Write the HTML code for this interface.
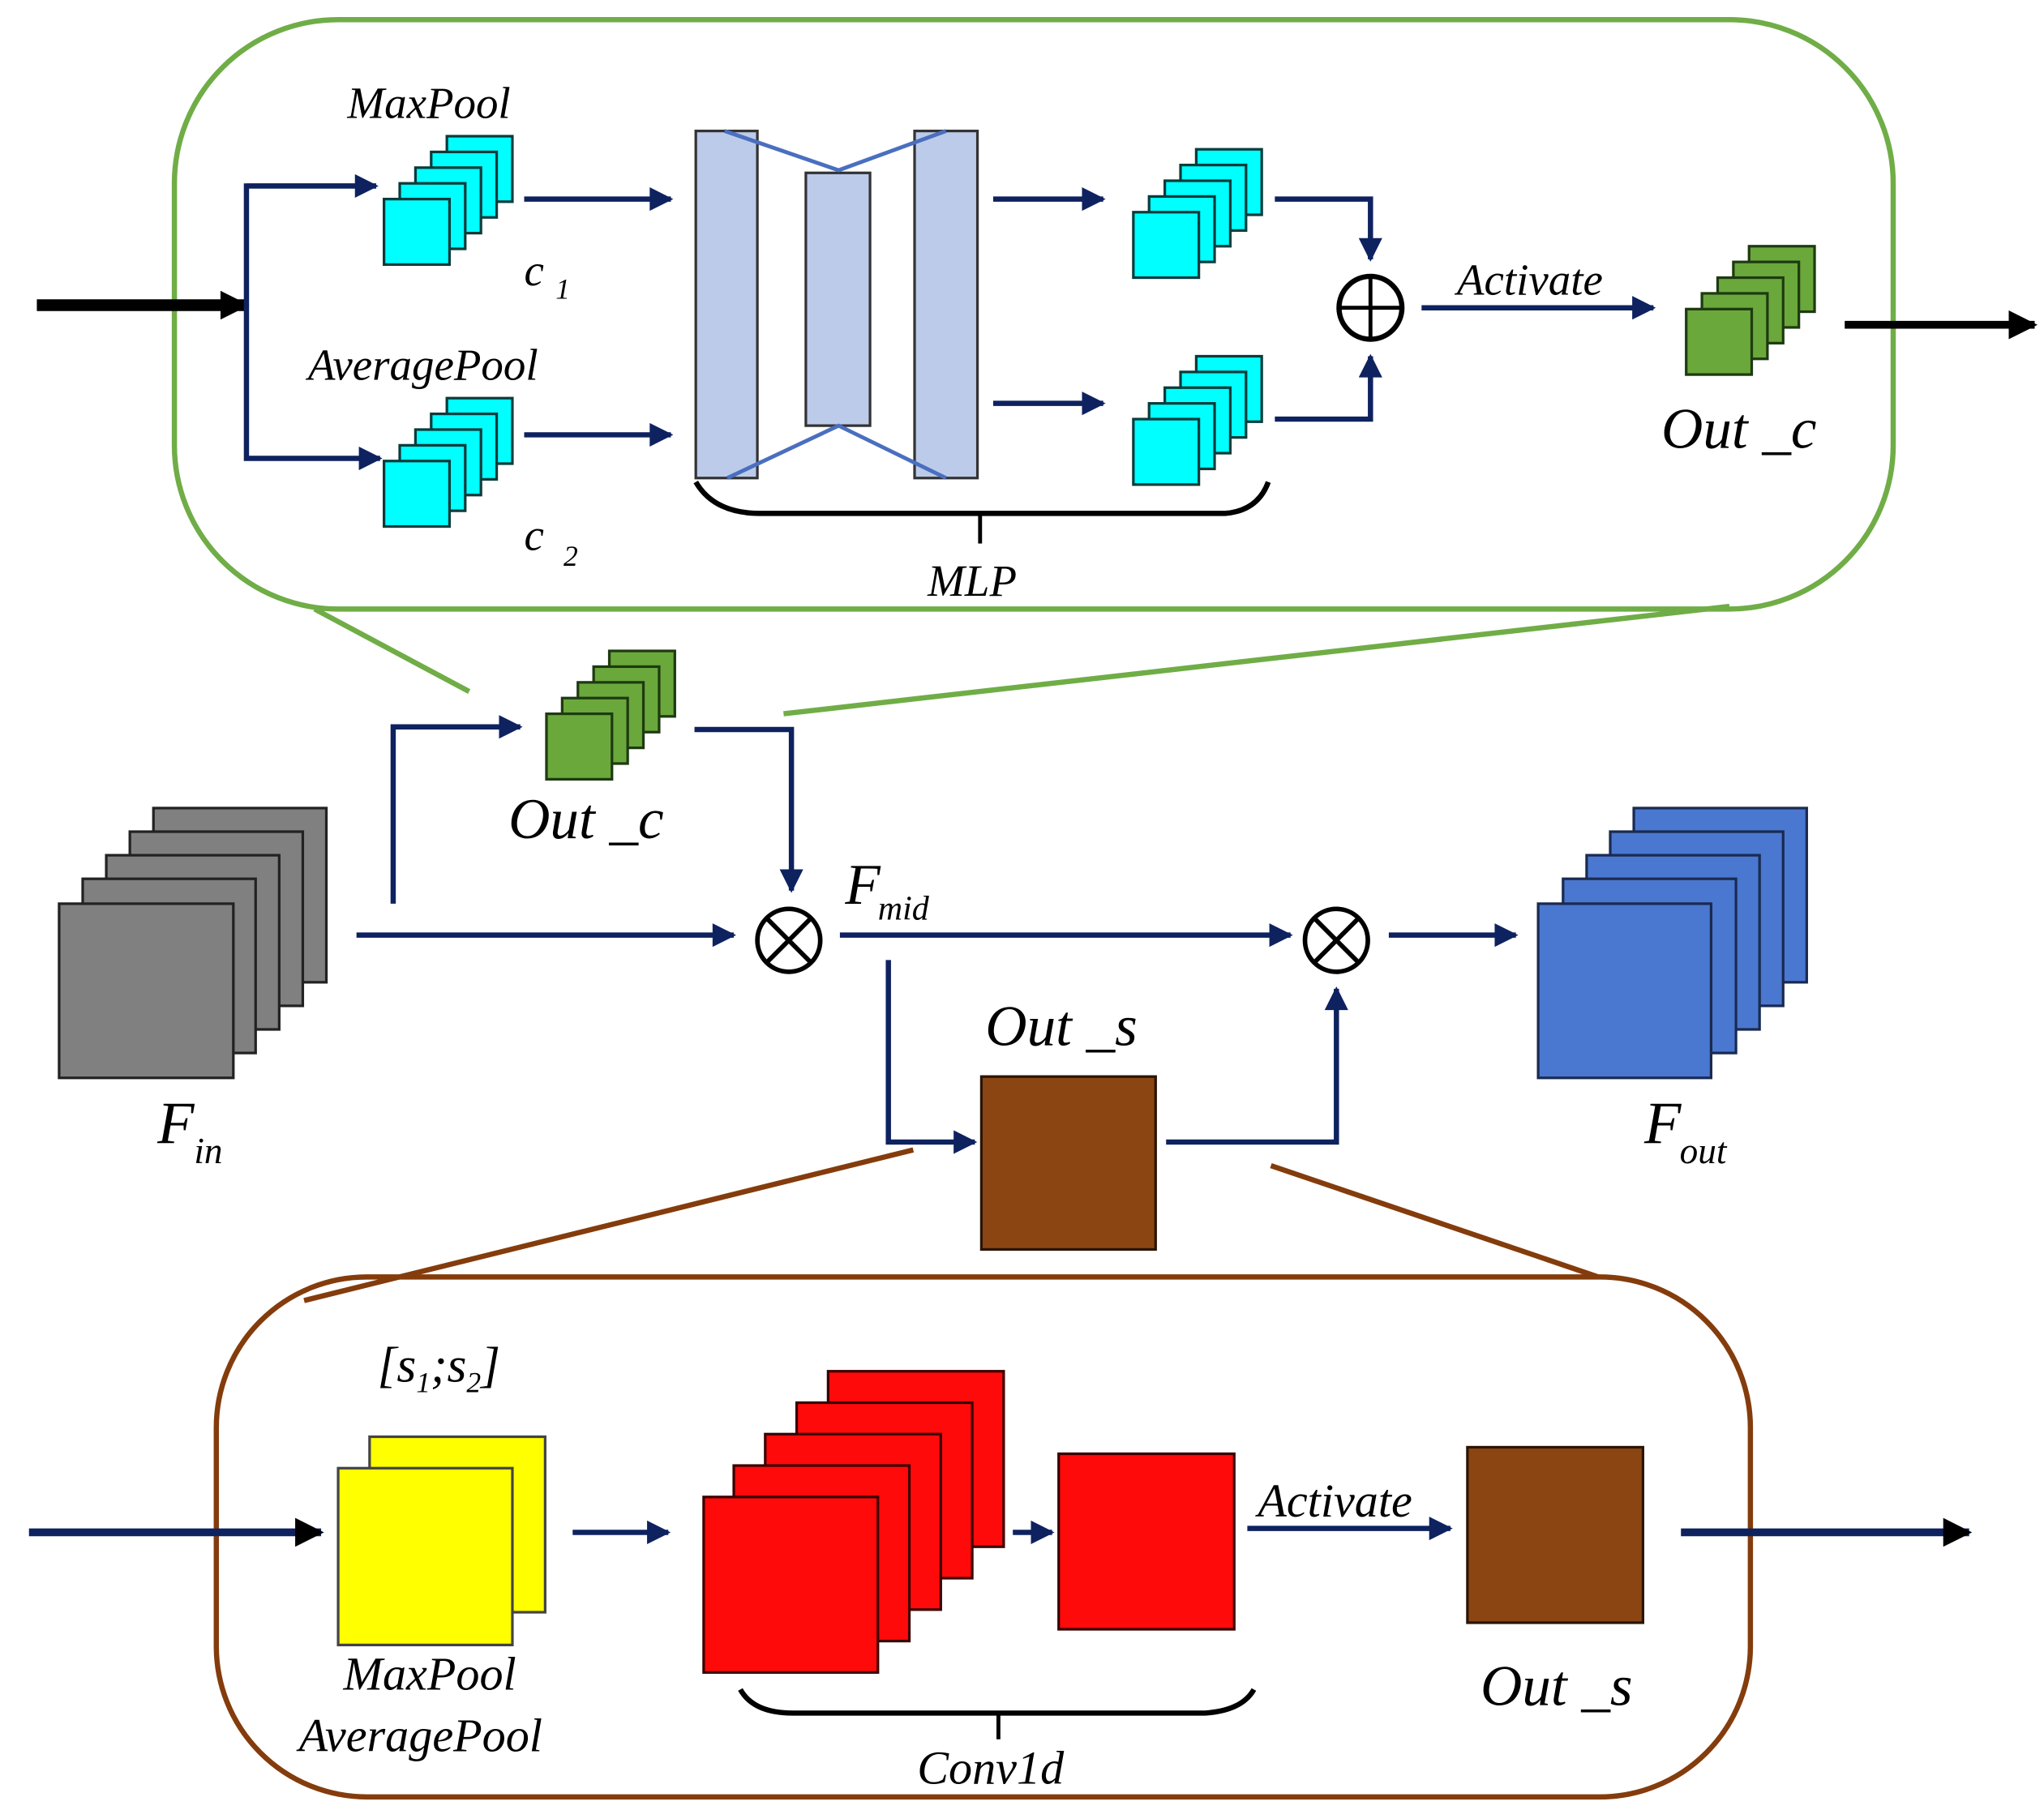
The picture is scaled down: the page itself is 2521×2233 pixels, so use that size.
<!DOCTYPE html>
<html><head><meta charset="utf-8"><style>
html,body{margin:0;padding:0;background:#fff}
svg{display:block}
text{font-family:"Liberation Serif",serif;font-style:italic;fill:#000}
</style></head><body>
<svg width="2521" height="2233" viewBox="0 0 1560 1382" xmlns="http://www.w3.org/2000/svg">
<defs>
<marker id="a" markerWidth="10" markerHeight="10" refX="8" refY="5" orient="auto" markerUnits="userSpaceOnUse"><path d="M0,0 L10,5 L0,10 Z" fill="#0e2260" transform="scale(1)"/></marker>
<marker id="A" viewBox="0 0 10 10" markerWidth="22" markerHeight="18" refX="9" refY="5" orient="auto" markerUnits="userSpaceOnUse"><path d="M0,0 L10,5 L0,10 Z" fill="#0e2260"/></marker>
<marker id="B" viewBox="0 0 10 10" markerWidth="36" markerHeight="22" refX="9" refY="5" orient="auto" markerUnits="userSpaceOnUse"><path d="M0,0 L10,5 L0,10 Z" fill="#000"/></marker>
<g id="cy"><rect width="50" height="50" fill="#00ffff" stroke="#0b3b3b" stroke-width="2"/></g>
<g id="gr"><rect width="50" height="50" fill="#6aa83c" stroke="#1e3a10" stroke-width="2"/></g>
</defs>
<rect width="1560" height="1382" fill="#fff"/>
<!-- green panel -->
<rect x="133" y="15" width="1312" height="450" rx="125" fill="none" stroke="#70ad47" stroke-width="4"/>
<line x1="240" y1="465" x2="358" y2="528" stroke="#70ad47" stroke-width="4"/>
<line x1="1320" y1="463" x2="598" y2="545" stroke="#70ad47" stroke-width="4"/>
<g stroke="#0e2260" stroke-width="4" fill="none">
<line x1="28" y1="233" x2="188" y2="233" stroke="#000" stroke-width="9" marker-end="url(#B)"/>
<polyline points="287,142 188,142 188,350 290,350" marker-end="url(#A)"/>
<line x1="188" y1="142" x2="287" y2="142" marker-end="url(#A)"/>
<line x1="400" y1="152" x2="512" y2="152" marker-end="url(#A)"/>
<line x1="400" y1="332" x2="512" y2="332" marker-end="url(#A)"/>
<line x1="758" y1="152" x2="842" y2="152" marker-end="url(#A)"/>
<line x1="758" y1="308" x2="842" y2="308" marker-end="url(#A)"/>
<polyline points="973,152 1046,152 1046,198" marker-end="url(#A)"/>
<polyline points="973,320 1046,320 1046,272" marker-end="url(#A)"/>
<line x1="1085" y1="235" x2="1262" y2="235" marker-end="url(#A)"/>
<line x1="1408" y1="248" x2="1553" y2="248" stroke="#000" stroke-width="6" marker-end="url(#B)"/>
</g>
<!-- cyan stacks -->
<g><use href="#cy" x="341" y="104"/><use href="#cy" x="329" y="116"/><use href="#cy" x="317" y="128"/><use href="#cy" x="305" y="140"/><use href="#cy" x="293" y="152"/></g>
<g><use href="#cy" x="341" y="304"/><use href="#cy" x="329" y="316"/><use href="#cy" x="317" y="328"/><use href="#cy" x="305" y="340"/><use href="#cy" x="293" y="352"/></g>
<g><use href="#cy" x="913" y="114"/><use href="#cy" x="901" y="126"/><use href="#cy" x="889" y="138"/><use href="#cy" x="877" y="150"/><use href="#cy" x="865" y="162"/></g>
<g><use href="#cy" x="913" y="272"/><use href="#cy" x="901" y="284"/><use href="#cy" x="889" y="296"/><use href="#cy" x="877" y="308"/><use href="#cy" x="865" y="320"/></g>
<g><use href="#gr" x="1335" y="188"/><use href="#gr" x="1323" y="200"/><use href="#gr" x="1311" y="212"/><use href="#gr" x="1299" y="224"/><use href="#gr" x="1287" y="236"/></g>
<g><use href="#gr" x="465" y="497"/><use href="#gr" x="453" y="509"/><use href="#gr" x="441" y="521"/><use href="#gr" x="429" y="533"/><use href="#gr" x="417" y="545"/></g>
<!-- MLP -->
<g fill="#bccbea" stroke="#333" stroke-width="2">
<rect x="531" y="100" width="47" height="265"/><rect x="615" y="132" width="49" height="193"/><rect x="698" y="100" width="48" height="265"/></g>
<g stroke="#4a6fbf" stroke-width="3" fill="none">
<polyline points="553,100 640,130 722,100"/><polyline points="555,365 640,325 722,365"/></g>
<path d="M531,368 Q545,392 580,392 L935,392 Q960,390 968,368" fill="none" stroke="#000" stroke-width="4"/>
<line x1="748" y1="392" x2="748" y2="415" stroke="#000" stroke-width="3"/>
<text x="265" y="90" font-size="34">MaxPool</text>
<text x="400" y="218" font-size="34">c</text><text x="424" y="228" font-size="22" font-style="normal">1</text>
<text x="235" y="290" font-size="34">AveragePool</text>
<text x="400" y="420" font-size="34">c</text><text x="430" y="432" font-size="22" font-style="normal">2</text>
<text x="708" y="455" font-size="34">MLP</text>
<text x="1112" y="225" font-size="34">Activate</text>
<text x="1268" y="342" font-size="44">Out _c</text>
<circle cx="1046" cy="235" r="24" fill="#fff" stroke="#000" stroke-width="4"/>
<line x1="1022" y1="235" x2="1070" y2="235" stroke="#000" stroke-width="3"/><line x1="1046" y1="211" x2="1046" y2="259" stroke="#000" stroke-width="3"/>
<!-- middle -->
<text x="388" y="640" font-size="44">Out _c</text>
<g stroke="#0e2260" stroke-width="4" fill="none">
<polyline points="300,690 300,555 397,555" marker-end="url(#A)"/>
<polyline points="530,557 604,557 604,680" marker-end="url(#A)"/>
<line x1="272" y1="714" x2="560" y2="714" marker-end="url(#A)"/>
<line x1="641" y1="714" x2="985" y2="714" marker-end="url(#A)"/>
<line x1="1060" y1="714" x2="1157" y2="714" marker-end="url(#A)"/>
<polyline points="678,733 678,872 744,872" marker-end="url(#A)"/>
<polyline points="890,872 1020,872 1020,755" marker-end="url(#A)"/>
</g>
<g stroke="#000" stroke-width="3.5" fill="none">
<circle cx="602" cy="718" r="24" fill="#fff"/><line x1="585" y1="701" x2="619" y2="735"/><line x1="619" y1="701" x2="585" y2="735"/>
<circle cx="1020" cy="718" r="24" fill="#fff"/><line x1="1003" y1="701" x2="1037" y2="735"/><line x1="1037" y1="701" x2="1003" y2="735"/>
</g>
<g fill="#808080" stroke="#222" stroke-width="2">
<rect x="117" y="617" width="132" height="133"/><rect x="99" y="635" width="132" height="133"/><rect x="81" y="653" width="132" height="133"/><rect x="63" y="671" width="132" height="133"/><rect x="45" y="690" width="133" height="133"/></g>
<g fill="#4a78d0" stroke="#1a2a50" stroke-width="2">
<rect x="1247" y="617" width="132" height="133"/><rect x="1229" y="635" width="132" height="133"/><rect x="1211" y="653" width="132" height="133"/><rect x="1193" y="671" width="132" height="133"/><rect x="1174" y="690" width="132" height="133"/></g>
<text x="120" y="873" font-size="46">F</text><text x="148" y="888" font-size="28">in</text>
<text x="1255" y="873" font-size="46">F</text><text x="1282" y="888" font-size="28">out</text>
<text x="645" y="690" font-size="44">F</text><text x="670" y="702" font-size="26">mid</text>
<text x="752" y="798" font-size="44">Out _s</text>
<rect x="749" y="822" width="133" height="132" fill="#8b4513" stroke="#2a1405" stroke-width="2"/>
<line x1="697" y1="878" x2="232" y2="993" stroke="#843c0c" stroke-width="4"/>
<line x1="970" y1="890" x2="1220" y2="975" stroke="#843c0c" stroke-width="4"/>
<!-- brown panel -->
<rect x="165" y="975" width="1171" height="397" rx="115" fill="none" stroke="#843c0c" stroke-width="4"/>
<g stroke="#0e2260" stroke-width="4" fill="none">
<line x1="22" y1="1170" x2="245" y2="1170" stroke-width="6" marker-end="url(#B)"/>
<line x1="437" y1="1170" x2="510" y2="1170" marker-end="url(#A)"/>
<line x1="773" y1="1170" x2="803" y2="1170" marker-end="url(#A)"/>
<line x1="952" y1="1167" x2="1107" y2="1167" marker-end="url(#A)"/>
<line x1="1283" y1="1170" x2="1503" y2="1170" stroke-width="6" marker-end="url(#B)"/>
</g>
<g fill="#ffff00" stroke="#444" stroke-width="2"><rect x="282" y="1097" width="134" height="134"/><rect x="258" y="1121" width="133" height="135"/></g>
<g fill="#ff0a0a" stroke="#3a0000" stroke-width="2">
<rect x="632" y="1047" width="134" height="134"/><rect x="608" y="1071" width="134" height="134"/><rect x="584" y="1095" width="134" height="134"/><rect x="560" y="1119" width="134" height="134"/><rect x="537" y="1143" width="133" height="134"/>
<rect x="808" y="1110" width="134" height="134"/></g>
<rect x="1120" y="1105" width="134" height="134" fill="#8b4513" stroke="#2a1405" stroke-width="2"/>
<path d="M565,1290 Q575,1308 605,1308 L920,1308 Q948,1306 957,1290" fill="none" stroke="#000" stroke-width="4"/>
<line x1="762" y1="1308" x2="762" y2="1328" stroke="#000" stroke-width="3"/>
<text x="288" y="1055" font-size="38" font-style="normal">[<tspan font-style="italic">s</tspan><tspan font-size="22" dy="8">1</tspan><tspan dy="-8">;</tspan><tspan font-style="italic">s</tspan><tspan font-size="22" dy="8">2</tspan><tspan dy="-8">]</tspan></text>
<text x="262" y="1290" font-size="36">MaxPool</text>
<text x="228" y="1337" font-size="36">AveragePool</text>
<text x="700" y="1362" font-size="36">Conv1d</text>
<text x="960" y="1158" font-size="36">Activate</text>
<text x="1130" y="1302" font-size="44">Out _s</text>
</svg>
</body></html>
